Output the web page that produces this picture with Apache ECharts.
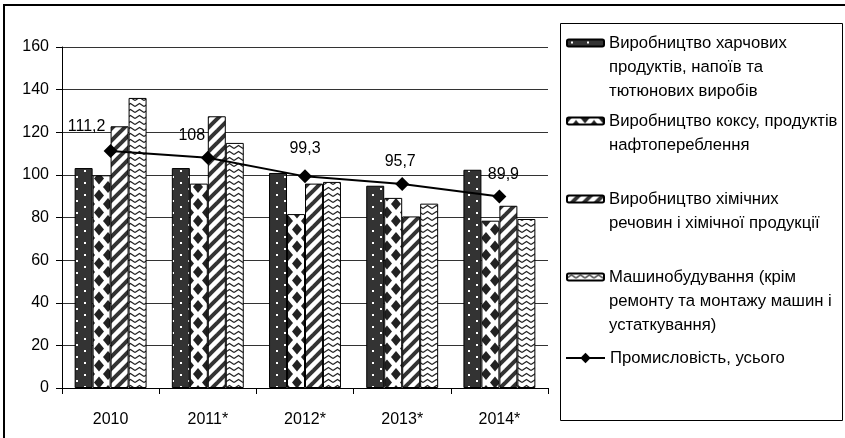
<!DOCTYPE html>
<html><head><meta charset="utf-8">
<script src="https://cdn.jsdelivr.net/npm/echarts@6/dist/echarts.min.js"></script>
<style>html,body{margin:0;padding:0;background:#fff}#c{width:845px;height:438px}</style>
</head><body><div id="c"></div>
<script>
// ---------- data ----------
const categories = ['2010', '2011*', '2012*', '2013*', '2014*'];
const nameFood = 'Виробництво харчових\nпродуктів, напоїв та\nтютюнових виробів';
const nameCoke = 'Виробництво коксу, продуктів\nнафтопереблення';
const nameChem = 'Виробництво хімічних\nречовин і хімічної продукції';
const nameMach = 'Машинобудування (крім\nремонту та монтажу машин і\nустаткування)';
const nameIndustry = 'Промисловість, усього';
const foodValues = [103.2, 103.2, 100.9, 94.9, 102.4];
const cokeValues = [99.8, 95.9, 81.6, 89.2, 78.5];
const chemValues = [122.8, 127.5, 95.9, 80.5, 85.5];
const machValues = [136.1, 115.0, 96.7, 86.5, 79.3];
const industryValues = [111.2, 108, 99.3, 95.7, 89.9];
const yTickLabels = ['0', '20', '40', '60', '80', '100', '120', '140', '160'];

// ---------- styles ----------
const FONT = '"Liberation Sans", Arial, sans-serif';
const labelShift = [[-24, -2], [-16, 0], [0, -6], [-2, 0], [4, 0]];
const NB = '\u00a0';

function makeTile(w, h, draw) {
  const c = document.createElement('canvas');
  c.width = w; c.height = h;
  const ctx = c.getContext('2d');
  draw(ctx, w, h);
  return { image: c, repeat: 'repeat' };
}
const patDots = makeTile(16, 12, (ctx, w, h) => {
  ctx.fillStyle = '#333'; ctx.fillRect(0, 0, w, h);
  ctx.fillStyle = '#fff';
  ctx.fillRect(4, 2, 2, 2);
  ctx.fillRect(12, 8, 2, 2);
});
const patDiamonds = makeTile(18, 17, (ctx, w, h) => {
  ctx.fillStyle = '#fff'; ctx.fillRect(0, 0, w, h);
  ctx.fillStyle = '#222';
  const dia = (cx, cy) => {
    ctx.beginPath();
    ctx.moveTo(cx, cy - 6); ctx.lineTo(cx + 5, cy); ctx.lineTo(cx, cy + 6); ctx.lineTo(cx - 5, cy);
    ctx.closePath(); ctx.fill();
  };
  dia(9, 8.5); dia(0, 0); dia(18, 0); dia(0, 17); dia(18, 17);
});
const patStripes = makeTile(12, 12, (ctx, w, h) => {
  ctx.fillStyle = '#fff'; ctx.fillRect(0, 0, w, h);
  ctx.strokeStyle = '#333'; ctx.lineWidth = 4;
  for (let k = -1; k <= 1; k++) {
    ctx.beginPath();
    ctx.moveTo(k * 12 - 2, h + 2); ctx.lineTo(k * 12 + w + 2, -2);
    ctx.stroke();
  }
});
const patZigzag = makeTile(9, 6, (ctx, w, h) => {
  ctx.fillStyle = '#fff'; ctx.fillRect(0, 0, w, h);
  ctx.strokeStyle = '#222'; ctx.lineWidth = 1.2;
  ctx.beginPath();
  ctx.moveTo(0, 4.5); ctx.lineTo(4.5, 1.5); ctx.lineTo(9, 4.5);
  ctx.stroke();
});

function barSeries(name, values, pattern) {
  return {
    name, type: 'bar', data: values,
    barGap: '0%', barCategoryGap: '26%',
    itemStyle: { color: pattern, borderColor: '#000', borderWidth: 1 },
    emphasis: { disabled: true }
  };
}
// first real line centred on the icon: pad to 3 lines, then 2 blank lines in front
function legendText(n) {
  const k = n.split('\n').length;
  return NB + '\n' + NB + '\n' + n + ('\n' + NB).repeat(3 - k);
}

const chart = echarts.init(document.getElementById('c'), null, { renderer: 'canvas' });
chart.setOption({
  animation: false,
  backgroundColor: '#fff',
  textStyle: { fontFamily: FONT },
  grid: { left: 62, top: 47, width: 486, height: 341, containLabel: false },
  xAxis: {
    type: 'category', data: categories,
    axisLine: { lineStyle: { color: '#000', width: 1 } },
    axisTick: { show: true, length: 6, alignWithLabel: false, lineStyle: { color: '#000' } },
    axisLabel: { color: '#000', fontSize: 16, fontFamily: FONT, margin: 24 },
    splitLine: { show: false }
  },
  yAxis: {
    type: 'value', min: 0, max: 160, interval: 20,
    axisLine: { show: true, lineStyle: { color: '#000', width: 1 } },
    axisTick: { show: true, length: 6, inside: false, lineStyle: { color: '#000' } },
    axisLabel: { color: '#000', fontSize: 16, fontFamily: FONT, margin: 13,
      formatter: (v) => yTickLabels[Math.round(v / 20)] },
    splitLine: { show: true, lineStyle: { color: '#333', width: 1 } }
  },
  legend: [{
    orient: 'vertical', left: 566, top: -17, padding: 0,
    itemWidth: 37, itemHeight: 7, itemGap: -42,
    selectedMode: false,
    formatter: legendText,
    textStyle: { fontSize: 16.7, fontFamily: FONT, color: '#000', lineHeight: 24 },
    data: [nameFood, nameCoke, nameChem, nameMach]
  }, {
    orient: 'vertical', left: 565, top: 346, padding: 0,
    itemWidth: 39, itemHeight: 13,
    selectedMode: false,
    textStyle: { fontSize: 16.7, fontFamily: FONT, color: '#000', lineHeight: 24 },
    data: [nameIndustry]
  }],
  graphic: [
    { type: 'rect', shape: { x: 4, y: 5, width: 900, height: 500 }, style: { fill: 'none', stroke: '#000', lineWidth: 2 }, silent: true },
    { type: 'rect', shape: { x: 560.5, y: 23.5, width: 282, height: 397 }, style: { fill: 'none', stroke: '#000', lineWidth: 1 }, silent: true, z: -1 }
  ],
  series: [
    barSeries(nameFood, foodValues, patDots),
    barSeries(nameCoke, cokeValues, patDiamonds),
    barSeries(nameChem, chemValues, patStripes),
    barSeries(nameMach, machValues, patZigzag),
    {
      name: nameIndustry, type: 'line', z: 5,
      data: industryValues.map((v, i) => ({ value: v, label: { offset: labelShift[i] } })),
      symbol: 'diamond', symbolSize: 14,
      itemStyle: { color: '#000' },
      lineStyle: { color: '#000', width: 2 },
      label: { show: true, position: 'top', distance: 7, color: '#000', fontSize: 16, fontFamily: FONT,
        formatter: (p) => String(p.value).replace('.', ',') },
      emphasis: { disabled: true }
    }
  ]
});
</script></body></html>
